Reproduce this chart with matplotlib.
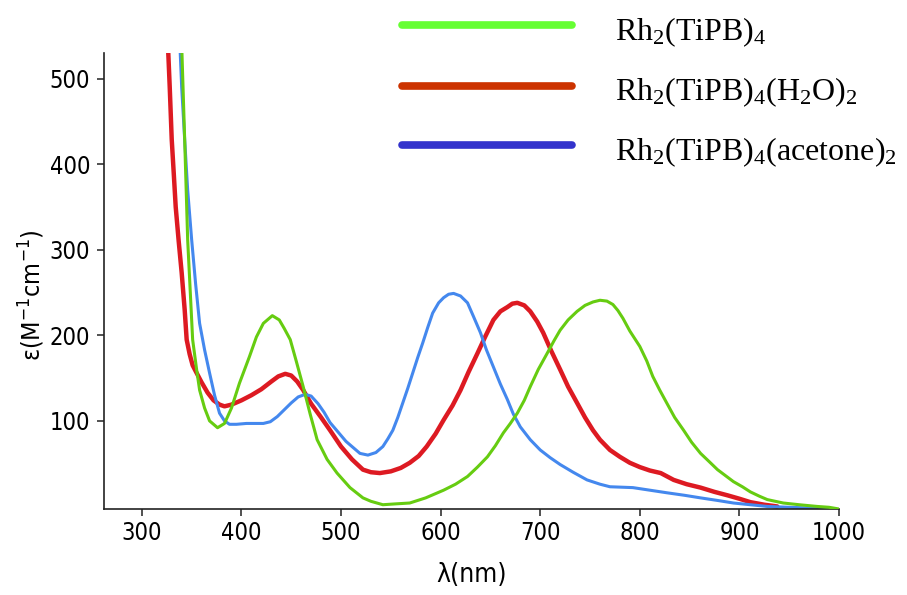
import matplotlib
matplotlib.use("Agg")
import matplotlib.pyplot as plt
from matplotlib.lines import Line2D

# ---------------- data ----------------
green_wl = [340, 343, 346, 351, 355, 358, 363, 368, 376, 383, 390, 398, 408, 415, 422, 431, 438, 443,
            449, 455, 462, 469, 476, 486, 496, 509, 522, 530, 542, 555, 569, 585, 603, 615, 627, 637,
            647, 655, 663, 670, 677, 684, 690, 698, 707, 714, 720, 728, 737, 745, 753, 760, 767, 773,
            778, 783, 790, 800, 807, 813, 820, 827, 835, 844, 852, 861, 870, 878, 886, 894, 903, 911,
            920, 928, 936, 944, 960, 978, 990, 1000]
green_eps = [540, 429, 312, 195, 160, 136, 115, 100, 92, 97, 115, 144, 175, 198, 214, 223, 218, 208,
             195, 170, 140, 108, 78, 55, 39, 22, 10, 6, 2, 3, 4, 10, 19, 26, 35, 46,
             58, 71, 86, 97, 109, 124, 140, 160, 179, 194, 206, 218, 228, 235, 239, 241, 240, 236,
             229, 220, 205, 187, 170, 152, 136, 121, 104, 89, 75, 62, 52, 43, 36, 29, 23, 17,
             12, 8, 6, 4, 2, 0, -1, -3]

red_wl = [325, 326, 328, 330, 332, 334, 337, 340, 343, 345, 348, 351, 355, 360, 366, 372, 378, 383,
          390, 400, 410, 420, 430, 437, 444, 450, 456, 462, 470, 480, 489, 500, 511, 522, 530, 539,
          550, 560, 569, 578, 586, 595, 603, 612, 620, 628, 637, 645, 653, 660, 667, 672, 677, 684,
          690, 697, 703, 711, 720, 728, 737, 745, 753, 760, 770, 780, 790, 800, 810, 821, 834, 847,
          861, 875, 888, 900, 911, 925, 938]
red_eps = [560, 545, 490, 429, 390, 350, 310, 273, 230, 195, 178, 165, 156, 145, 133, 124, 119, 117,
           119, 124, 130, 137, 146, 152, 155, 153, 146, 136, 120, 104, 89, 70, 55, 43, 40, 39,
           41, 45, 51, 59, 70, 85, 101, 118, 136, 157, 179, 199, 218, 228, 233, 237, 238, 235,
           228, 216, 203, 182, 160, 140, 121, 104, 89, 78, 66, 58, 51, 46, 42, 39, 31, 26,
           22, 17, 13, 9, 5, 2, 0]

blue_wl = [338, 340, 343, 346, 350, 354, 358, 363, 368, 373, 378, 383, 388, 395, 405, 415, 422, 429,
           436, 443, 450, 457, 464, 470, 477, 483, 489, 497, 505, 512, 519, 527, 535, 542, 547, 552,
           557, 562, 567, 572, 577, 582, 587, 592, 598, 603, 608, 613, 620, 627, 633, 640, 646, 653,
           660, 667, 673, 680, 690, 700, 710, 720, 733, 747, 760, 770, 793, 810, 827, 845, 861, 878,
           894, 911, 928, 950, 975, 1000]
blue_eps = [545, 490, 429, 370, 312, 260, 214, 183, 156, 130, 109, 100, 96, 96, 97, 97, 97, 99,
            105, 113, 121, 128, 131, 129, 120, 110, 98, 87, 76, 69, 62, 60, 63, 70, 79, 89,
            104, 121, 138, 156, 174, 191, 209, 226, 238, 244, 248, 249, 246, 238, 222, 203, 183, 163,
            143, 125, 108, 93, 78, 66, 57, 49, 40, 31, 26, 23, 22, 19, 16, 13, 10, 7,
            4, 2, 0, -1, -2, -4]

legend_labels = [r'Rh$\mathregular{_2}$(TiPB)$\mathregular{_4}$',
                 r'Rh$\mathregular{_2}$(TiPB)$\mathregular{_4}$(H$\mathregular{_2}$O)$\mathregular{_2}$',
                 r'Rh$\mathregular{_2}$(TiPB)$\mathregular{_4}$(acetone)$\mathregular{_2}$']
x_ticks = [300, 400, 500, 600, 700, 800, 900, 1000]
y_ticks = [100, 200, 300, 400, 500]

# ---------------- style ----------------
sans = 'DejaVu Sans'
serif = 'Liberation Serif'
plt.rcParams['font.stretch'] = 'condensed'

W, H = 907, 595
fig = plt.figure(figsize=(W / 100, H / 100), dpi=100)
L, R, T, B = 104, 839, 53, 509
ax = fig.add_axes([L / W, 1 - B / H, (R - L) / W, (B - T) / H])

ax.plot(green_wl, green_eps, color='#66cc11', lw=2.2, solid_capstyle='round', zorder=3)
ax.plot(blue_wl, blue_eps, color='#4488ee', lw=2.2, solid_capstyle='round', zorder=2)
ax.plot(red_wl, red_eps, color='#dd1a22', lw=3.2, solid_capstyle='round', zorder=1)

ax.set_xlim(262, 1000)
ax.set_ylim(-3, 530)
ax.set_xticks(x_ticks)
ax.set_yticks(y_ticks)
for s in ['top', 'right']:
    ax.spines[s].set_visible(False)
for s in ['left', 'bottom']:
    ax.spines[s].set_linewidth(1.2)
    ax.spines[s].set_color('#222222')
ax.tick_params(axis='both', direction='out', length=5, width=1.1, color='#222222',
               labelsize=17)
ax.tick_params(axis='y', pad=5)
ax.tick_params(axis='x', pad=4)
for lab in ax.get_xticklabels() + ax.get_yticklabels():
    lab.set_fontfamily(sans)
    lab.set_fontstretch('condensed')
ax.set_xlabel('λ(nm)', fontsize=19, family=sans, stretch='condensed', labelpad=12)
ax.set_ylabel(r'ε(M$\mathregular{^{-1}}$cm$\mathregular{^{-1}}$)', fontsize=18, family=sans,
              stretch='condensed', labelpad=10)
ax.yaxis.set_label_coords(-0.078, 0.47)

# ---------------- legend ----------------
leg_colors = ['#66ff33', '#cc3300', '#3333cc']
line_y = [25, 86, 145]
text_y = [40, 100, 160]
for c, ly, ty, lab in zip(leg_colors, line_y, text_y, legend_labels):
    fig.add_artist(Line2D([402 / W, 572 / W], [1 - ly / H, 1 - ly / H], color=c, lw=5.5,
                          solid_capstyle='round', transform=fig.transFigure))
    fig.text(615 / W, 1 - ty / H, lab, fontsize=23, family=serif, stretch='normal',
             va='baseline', ha='left')

fig.savefig('out.png', dpi=100)
